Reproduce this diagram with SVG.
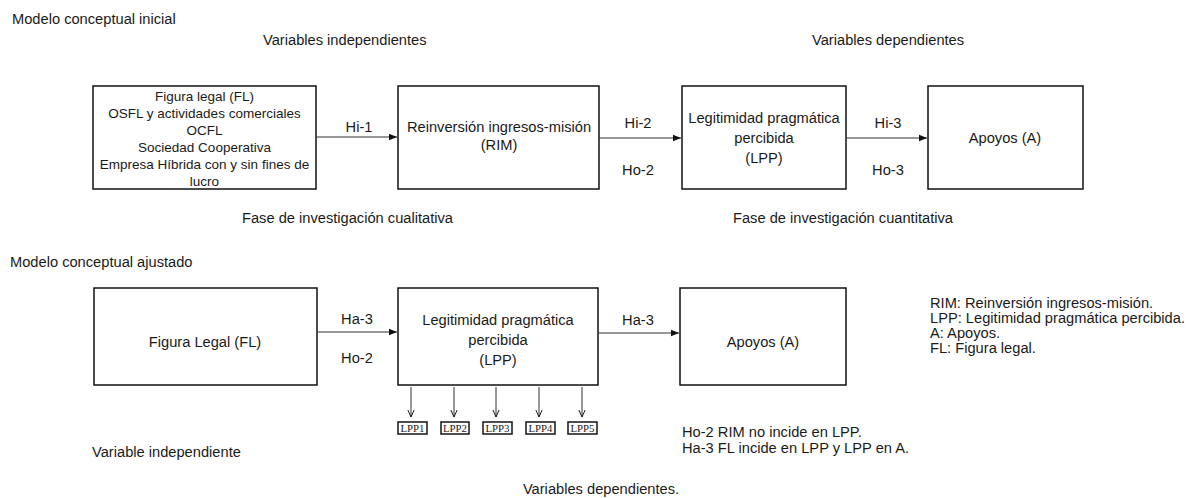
<svg xmlns="http://www.w3.org/2000/svg" width="1190" height="498" viewBox="0 0 1190 498">
<style>
text{font-family:"Liberation Sans",Arial,sans-serif;font-size:14.67px;fill:#1a1a1a}
.c{text-anchor:middle}
.s{font-size:13.5px}
.box{fill:#fff;stroke:#111;stroke-width:1.5}
.ln{stroke:#333;stroke-width:1;fill:none}
.sb{fill:#fff;stroke:#222;stroke-width:1.6}
.st{font-family:"Liberation Serif","Times New Roman",serif;font-size:10.8px;text-anchor:middle}
</style>
<defs>
<marker id="ah" viewBox="0 0 10 10" refX="10" refY="5" markerWidth="8" markerHeight="8" markerUnits="userSpaceOnUse" orient="auto"><path d="M0,1 L10,5 L0,9 z" fill="#111"/></marker>
<marker id="ov" viewBox="0 0 10 10" refX="9" refY="5" markerWidth="8" markerHeight="8" markerUnits="userSpaceOnUse" orient="auto"><path d="M0,1 L9,5 L0,9" fill="none" stroke="#111" stroke-width="1.2"/></marker>
</defs>
<rect width="1190" height="498" fill="#fff"/>
<text x="12" y="24">Modelo conceptual inicial</text>
<text x="263" y="45">Variables independientes</text>
<text x="812" y="45">Variables dependientes</text>
<g id="n-fl1"><rect class="box" x="93" y="86" width="223" height="103"/>
<text class="c s" x="204.5" y="101">Figura legal  (FL)</text>
<text class="c s" x="204.5" y="118">OSFL y actividades comerciales</text>
<text class="c s" x="204.5" y="135">OCFL</text>
<text class="c s" x="204.5" y="152">Sociedad Cooperativa</text>
<text class="c s" x="204.5" y="169">Empresa Híbrida con y sin fines de</text>
<text class="c s" x="204.5" y="186">lucro</text></g>
<g id="n-rim"><rect class="box" x="398" y="86" width="201" height="103"/>
<text class="c" x="499" y="132">Reinversión ingresos-misión</text>
<text class="c" x="499" y="150">(RIM)</text></g>
<g id="n-lpp1"><rect class="box" x="682" y="86" width="164" height="103"/>
<text class="c" x="764" y="123">Legitimidad pragmática</text>
<text class="c" x="764" y="143">percibida</text>
<text class="c" x="764" y="163">(LPP)</text></g>
<g id="n-a1"><rect class="box" x="928" y="86" width="155" height="103"/>
<text class="c" x="1005" y="143">Apoyos (A)</text></g>
<text x="242" y="223">Fase de investigación cualitativa</text>
<text x="733" y="223">Fase de investigación cuantitativa</text>
<text x="10" y="267">Modelo conceptual ajustado</text>
<g id="n-fl2"><rect class="box" x="94" y="288" width="223" height="97"/>
<text class="c" x="205" y="347">Figura Legal (FL)</text></g>
<g id="n-lpp2"><rect class="box" x="398" y="288" width="200" height="97"/>
<text class="c" x="498" y="325">Legitimidad pragmática</text>
<text class="c" x="498" y="345">percibida</text>
<text class="c" x="498" y="365">(LPP)</text></g>
<g id="n-a2"><rect class="box" x="680" y="288" width="166" height="97"/>
<text class="c" x="763" y="347">Apoyos (A)</text></g>
<g id="n-lppi">
<rect class="sb" x="398" y="422" width="29" height="12"/><text class="st" x="412.5" y="432.3">LPP1</text>
<rect class="sb" x="441" y="422" width="28" height="12"/><text class="st" x="455" y="432.3">LPP2</text>
<rect class="sb" x="483" y="422" width="29" height="12"/><text class="st" x="497.5" y="432.3">LPP3</text>
<rect class="sb" x="526" y="422" width="29" height="12"/><text class="st" x="540.5" y="432.3">LPP4</text>
<rect class="sb" x="568" y="422" width="29" height="12"/><text class="st" x="582.5" y="432.3">LPP5</text>
</g>
<g id="connectors">
<line class="ln" x1="316" y1="137" x2="397" y2="137" marker-end="url(#ah)"/>
<line class="ln" x1="599" y1="138" x2="681" y2="138" marker-end="url(#ah)"/>
<line class="ln" x1="846" y1="138" x2="927" y2="138" marker-end="url(#ah)"/>
<line class="ln" x1="317" y1="332" x2="397" y2="332" marker-end="url(#ah)"/>
<line class="ln" x1="598" y1="333" x2="679" y2="333" marker-end="url(#ah)"/>
<line class="ln" x1="411" y1="387" x2="411" y2="417" marker-end="url(#ov)"/>
<line class="ln" x1="454" y1="387" x2="454" y2="417" marker-end="url(#ov)"/>
<line class="ln" x1="496" y1="387" x2="496" y2="417" marker-end="url(#ov)"/>
<line class="ln" x1="539" y1="387" x2="539" y2="417" marker-end="url(#ov)"/>
<line class="ln" x1="582" y1="387" x2="582" y2="417" marker-end="url(#ov)"/>
<text class="c" x="359" y="132">Hi-1</text>
<text class="c" x="638" y="128">Hi-2</text>
<text class="c" x="638" y="175">Ho-2</text>
<text class="c" x="888" y="128">Hi-3</text>
<text class="c" x="888" y="175">Ho-3</text>
<text class="c" x="357" y="324">Ha-3</text>
<text class="c" x="357" y="363">Ho-2</text>
<text class="c" x="638" y="325">Ha-3</text>
</g>
<text x="930" y="308">RIM: Reinversión ingresos-misión.</text>
<text x="930" y="323">LPP: Legitimidad pragmática percibida.</text>
<text x="930" y="338">A: Apoyos.</text>
<text x="930" y="353">FL: Figura legal.</text>
<text x="682" y="437">Ho-2 RIM no incide en LPP.</text>
<text x="682" y="453">Ha-3 FL incide en LPP y LPP en A.</text>
<text x="92" y="457">Variable independiente</text>
<text class="c" x="601" y="494">Variables dependientes.</text>
</svg>
